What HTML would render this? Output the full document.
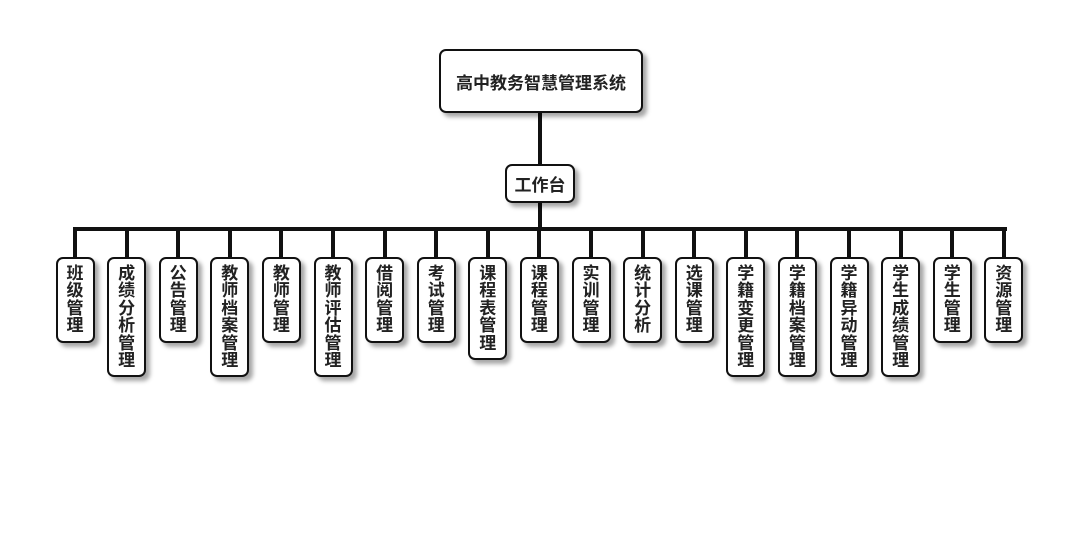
<!DOCTYPE html>
<html><head><meta charset="utf-8"><style>
body{margin:0;width:1080px;height:560px;background:#fff;position:relative;overflow:hidden;font-family:"Liberation Sans","Noto Sans CJK SC",sans-serif;font-weight:bold;color:#222}
.b{position:absolute;box-sizing:border-box;border:2px solid #111;border-radius:7px;background:#fff;box-shadow:4px 4px 4px rgba(0,0,0,0.35);display:flex;align-items:center;justify-content:center;text-align:center}
.c{top:257px;width:39px;padding:6px 0;line-height:17.4px;font-size:17px;display:block}
.l{position:absolute;background:#111}
</style></head><body>
<div class="l" style="left:538px;top:110px;width:4px;height:56px"></div>
<div class="l" style="left:538px;top:200px;width:4px;height:30px"></div>
<div class="l" style="left:73px;top:227px;width:934px;height:4px"></div>
<div class="b" style="left:439px;top:49px;width:204px;height:64px;font-size:17px">高中教务智慧管理系统</div>
<div class="b" style="left:505px;top:164px;width:70px;height:39px;font-size:17px">工作台</div>
<div id="k"></div>
<script>
var n=["班级管理","成绩分析管理","公告管理","教师档案管理","教师管理","教师评估管理","借阅管理","考试管理","课程表管理","课程管理","实训管理","统计分析","选课管理","学籍变更管理","学籍档案管理","学籍异动管理","学生成绩管理","学生管理","资源管理"];
var h="";
for(var i=0;i<n.length;i++){var cx=75+i*51.6;
h+='<div class="l" style="left:'+(cx-2)+'px;top:229px;width:4px;height:30px"></div>';
h+='<div class="b c" style="left:'+(cx-19.5)+'px">'+n[i].split("").join("<br>")+'</div>';}
document.getElementById("k").innerHTML=h;
</script>
</body></html>
